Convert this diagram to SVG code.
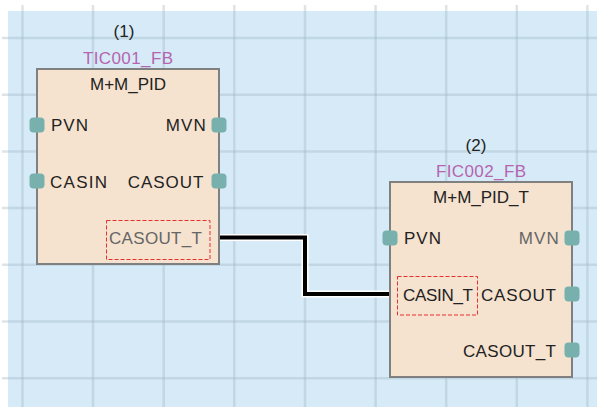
<svg xmlns="http://www.w3.org/2000/svg" width="597" height="407" viewBox="0 0 597 407">
<style>
text{font-family:"Liberation Sans",Arial,sans-serif;font-size:17px;fill:#222}
.node{fill:#f5e2cf;stroke:#808080;stroke-width:2}
.port{fill:#78b0ae;stroke:none}
.inst{fill:#b565b0}
.dim{fill:#666}
.sel{fill:none;stroke:#e53030;stroke-width:1;stroke-dasharray:4 2}
.grid line{stroke:#9fb3c0;stroke-opacity:0.35;stroke-width:2.5}
</style>
<rect x="0" y="0" width="597" height="407" fill="#ffffff"/>
<rect x="8" y="11" width="589" height="396" fill="#d6ebf7"/>
<g class="grid">
<line x1="22.5" y1="5" x2="22.5" y2="407"/>
<line x1="93" y1="5" x2="93" y2="407"/>
<line x1="163.7" y1="5" x2="163.7" y2="407"/>
<line x1="234.3" y1="5" x2="234.3" y2="407"/>
<line x1="305" y1="5" x2="305" y2="407"/>
<line x1="375.6" y1="5" x2="375.6" y2="407"/>
<line x1="446.2" y1="5" x2="446.2" y2="407"/>
<line x1="516.8" y1="5" x2="516.8" y2="407"/>
<line x1="587.4" y1="5" x2="587.4" y2="407"/>
<line x1="2" y1="38" x2="597" y2="38"/>
<line x1="2" y1="94.7" x2="597" y2="94.7"/>
<line x1="2" y1="151.4" x2="597" y2="151.4"/>
<line x1="2" y1="208.1" x2="597" y2="208.1"/>
<line x1="2" y1="264.8" x2="597" y2="264.8"/>
<line x1="2" y1="321.5" x2="597" y2="321.5"/>
<line x1="2" y1="378.2" x2="597" y2="378.2"/>
</g>
<g id="connectors">
<path d="M219,237.5 H305 V294 H390" fill="none" stroke="#ffffff" stroke-width="7"/>
<path d="M219,237.5 H305 V294 H390" fill="none" stroke="#000000" stroke-width="4"/>
</g>
<g id="node1">
<text x="124" y="37" text-anchor="middle">(1)</text>
<text class="inst" x="83" y="64" textLength="90" lengthAdjust="spacing">TIC001_FB</text>
<rect class="node" x="37" y="69" width="182" height="195"/>
<text x="128" y="90" text-anchor="middle">M+M_PID</text>
<rect class="port" x="29.5" y="117.5" width="15" height="15" rx="4"/>
<text x="51" y="131" textLength="37" lengthAdjust="spacing">PVN</text>
<rect class="port" x="211.5" y="117.5" width="15" height="15" rx="4"/>
<text x="165.7" y="131" textLength="40" lengthAdjust="spacing">MVN</text>
<rect class="port" x="29.5" y="173.5" width="15" height="15" rx="4"/>
<text x="50" y="188" textLength="57" lengthAdjust="spacing">CASIN</text>
<rect class="port" x="211.5" y="173.5" width="15" height="15" rx="4"/>
<text x="127.7" y="188" textLength="75.6" lengthAdjust="spacing">CASOUT</text>
<rect class="sel" x="106.5" y="220.5" width="103.5" height="39"/>
<text class="dim" x="109" y="244" textLength="93" lengthAdjust="spacing">CASOUT_T</text>
</g>
<g id="node2">
<text x="476" y="151" text-anchor="middle">(2)</text>
<text class="inst" x="436" y="177" textLength="90" lengthAdjust="spacing">FIC002_FB</text>
<rect class="node" x="390" y="182" width="182" height="195"/>
<text x="481" y="203" text-anchor="middle">M+M_PID_T</text>
<rect class="port" x="382.5" y="230.5" width="15" height="15" rx="4"/>
<text x="404" y="244" textLength="37" lengthAdjust="spacing">PVN</text>
<rect class="port" x="564.5" y="230.5" width="15" height="15" rx="4"/>
<text class="dim" x="518.7" y="244" textLength="40" lengthAdjust="spacing">MVN</text>
<rect class="sel" x="397.5" y="276.5" width="80" height="38.5"/>
<text x="403" y="301" textLength="70" lengthAdjust="spacing">CASIN_T</text>
<rect class="port" x="564.5" y="286.5" width="15" height="15" rx="4"/>
<text x="481" y="301" textLength="75" lengthAdjust="spacing">CASOUT</text>
<rect class="port" x="564.5" y="342.5" width="15" height="15" rx="4"/>
<text x="463" y="357" textLength="93" lengthAdjust="spacing">CASOUT_T</text>
</g>
</svg>
